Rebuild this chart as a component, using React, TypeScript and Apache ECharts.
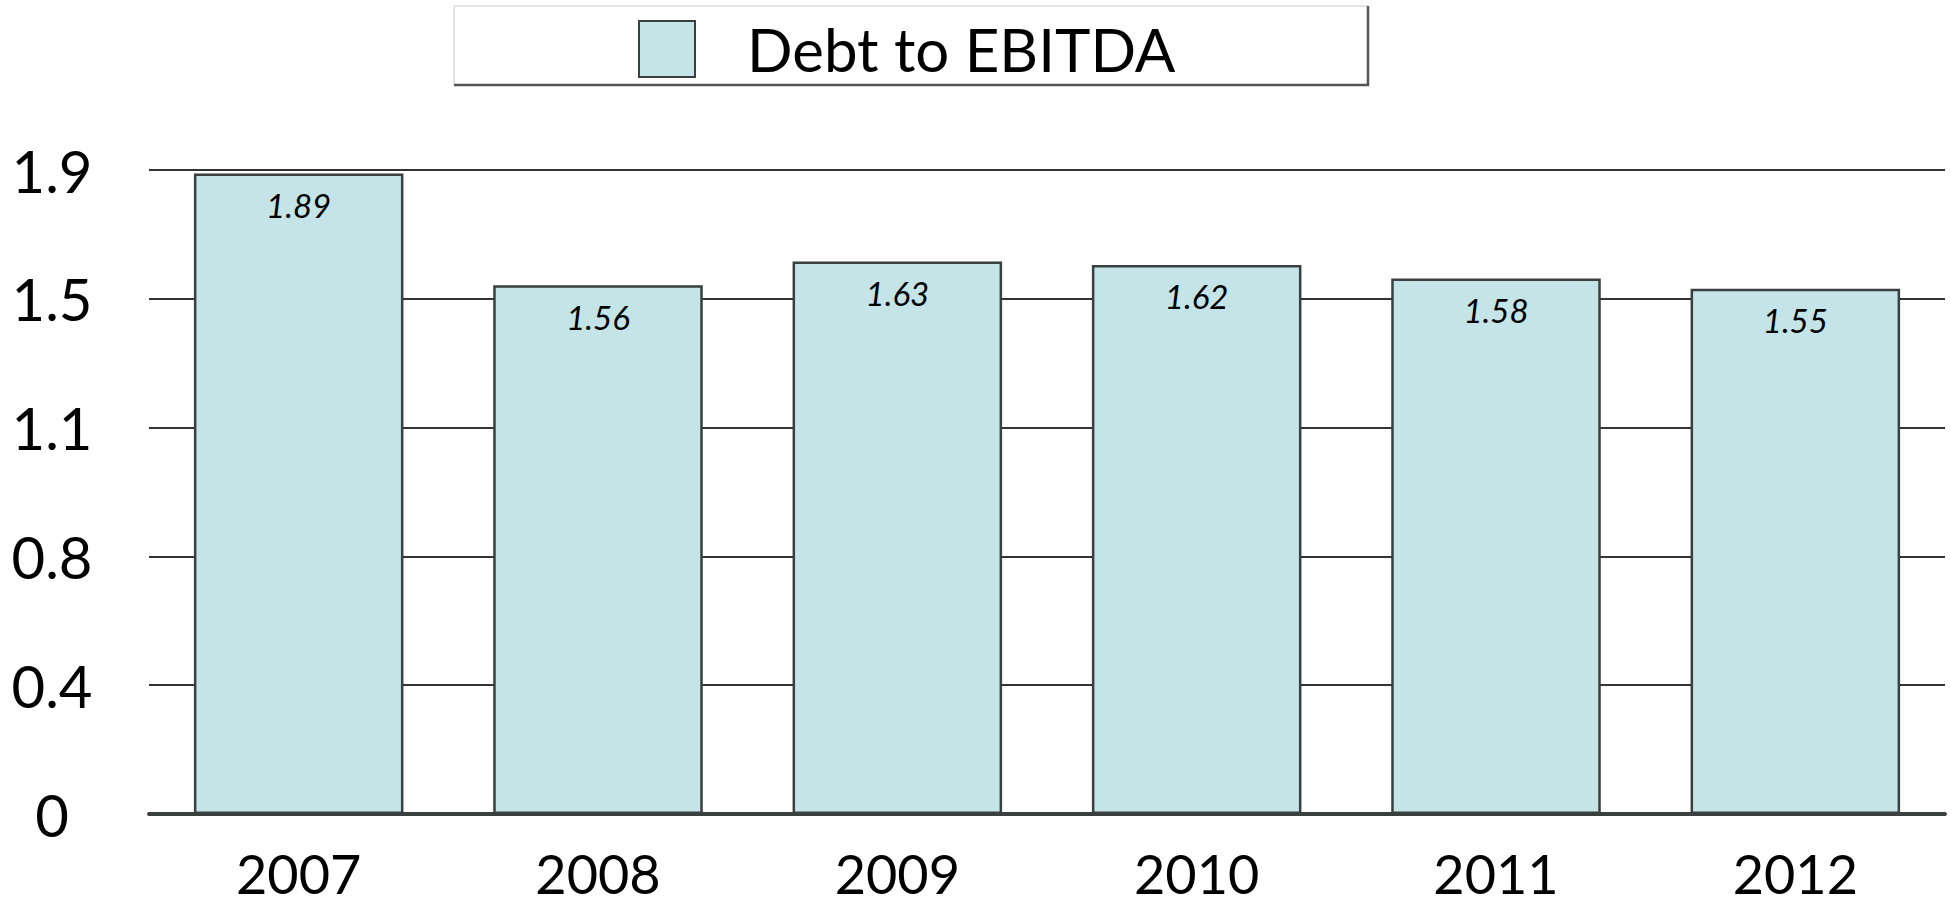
import React, { useEffect, useRef } from "react";
import * as echarts from "echarts";

const categories = ["2007", "2008", "2009", "2010", "2011", "2012"];
const debtToEbitda = [1.89, 1.56, 1.63, 1.62, 1.58, 1.55];
const yTickLabels = ["0", "0.4", "0.8", "1.1", "1.5", "1.9"];
const seriesName = "Debt to EBITDA";

const FONT = "Lato, 'Open Sans', sans-serif";

export default function App() {
  const ref = useRef<HTMLDivElement>(null);
  useEffect(() => {
    if (!ref.current) return;
    const chart = echarts.init(ref.current, undefined, { renderer: "svg" });
    chart.setOption({
      animation: false,
      backgroundColor: "#ffffff",
      graphic: [
        {
          type: "rect",
          shape: { x: 454, y: 6, width: 914, height: 79 },
          style: { fill: "#ffffff", stroke: "#c8c8c8", lineWidth: 1 },
          z: 0,
        },
        {
          type: "polyline",
          shape: { points: [[454, 85], [1368, 85], [1368, 6]] },
          style: { stroke: "#555555", lineWidth: 2.5, fill: "none" },
          z: 1,
        },
      ],
      legend: {
        left: 638,
        top: 19,
        padding: 0,
        itemWidth: 56,
        itemHeight: 56,
        icon: "rect",
        textStyle: {
          fontFamily: FONT,
          fontSize: 60,
          color: "#000",
          padding: [0, 0, 0, 47],
        },
        itemStyle: { borderColor: "#3a3f3f", borderWidth: 2 },
        z: 5,
      },
      grid: { left: 149, right: 6, top: 170, bottom: 96, containLabel: false },
      xAxis: {
        type: "category",
        data: categories,
        axisLine: { show: true, lineStyle: { color: "#3a3f3f", width: 4 } },
        axisTick: { show: false },
        axisLabel: {
          fontFamily: FONT,
          fontSize: 54,
          lineHeight: 54,
          color: "#000",
          margin: 32,
        },
      },
      yAxis: {
        type: "value",
        min: 0,
        max: 1.9,
        interval: 0.38,
        axisLine: { show: false },
        axisTick: { show: false },
        splitLine: { show: true, lineStyle: { color: "#333", width: 2 } },
        axisLabel: {
          fontFamily: FONT,
          fontSize: 58,
          color: "#000",
          align: "center",
          margin: 97,
          formatter: (_v: number, i: number) => yTickLabels[i] ?? "",
        },
      },
      series: [
        {
          name: seriesName,
          type: "bar",
          data: debtToEbitda,
          barWidth: "70%",
          itemStyle: { color: "#c5e4e7", borderColor: "#3a3f3f", borderWidth: 2.5 },
          label: {
            show: true,
            position: "insideTop",
            distance: 15,
            fontFamily: FONT,
            fontStyle: "italic",
            fontSize: 33,
            color: "#000",
            formatter: (p: any) => p.value.toFixed(2),
          },
        },
      ],
    });
    return () => chart.dispose();
  }, []);
  return (
    <div
      ref={ref}
      style={{ position: "fixed", left: 0, top: 0, width: 1951, height: 910 }}
    />
  );
}
